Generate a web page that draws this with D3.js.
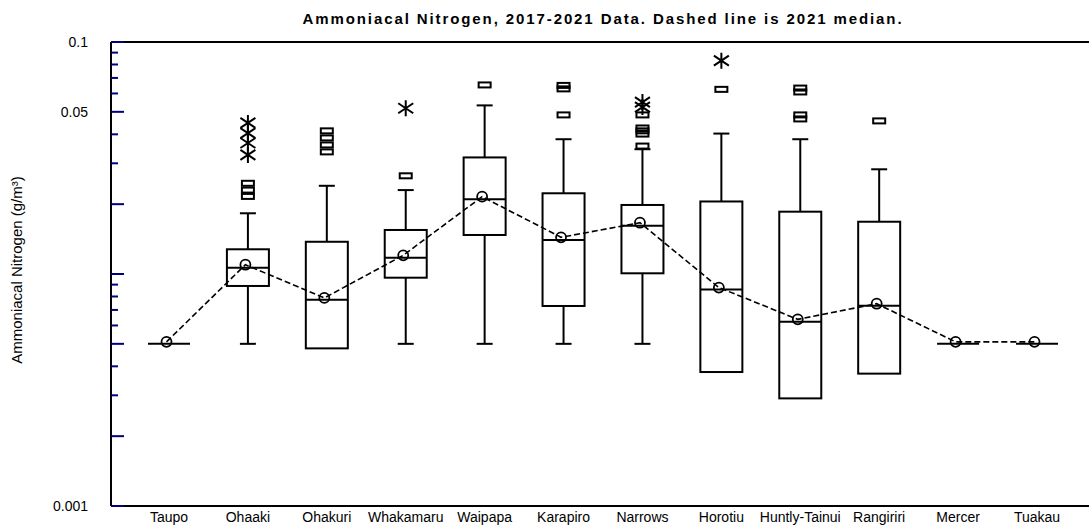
<!DOCTYPE html>
<html>
<head>
<meta charset="utf-8">
<script src="https://cdn.jsdelivr.net/npm/d3@7"></script>
<style>
  body { margin: 0; background: #fff; }
  text { font-family: "Liberation Sans", Arial, sans-serif; fill: #000; }
</style>
</head>
<body>
<div id="chart"></div>
<script>
// sites along the river, upstream to downstream
const sites = ['Taupo', 'Ohaaki', 'Ohakuri', 'Whakamaru', 'Waipapa', 'Karapiro',
    'Narrows', 'Horotiu', 'Huntly-Tainui', 'Rangiriri', 'Mercer', 'Tuakau'];

// 2017-2021 box statistics (g/m3)
const lowWhisker  = [0.005, 0.005,   0.00478, 0.005,   0.005,   0.005,   0.005,   0.00378, 0.00291, 0.00372, 0.005, 0.005];
const quart1      = [0.005, 0.00888, 0.00478, 0.00964, 0.01473, 0.00728, 0.01007, 0.00378, 0.00291, 0.00372, 0.005, 0.005];
const medians     = [0.005, 0.01064, 0.00775, 0.01176, 0.0210,  0.01401, 0.01615, 0.00857, 0.00623, 0.0073,  0.005, 0.005];
const quart3      = [0.005, 0.01278, 0.01377, 0.01548, 0.0318,  0.02228, 0.01984, 0.02054, 0.01856, 0.0168,  0.005, 0.005];
const highWhisker = [0.005, 0.01827, 0.0240,  0.0230,  0.0533,  0.0381,  0.0345,  0.0403,  0.0381,  0.02827, 0.005, 0.005];

// outside values (squares) and far outside values (stars)
const outsideVals = [
    [],
    [0.0246, 0.0230, 0.0216],
    [0.0414, 0.0386, 0.0360, 0.0336],
    [0.0265],
    [0.0653],
    [0.0485, 0.0650, 0.0628],
    [0.0485, 0.0426, 0.0414, 0.0401, 0.0356],
    [0.0625],
    [0.0633, 0.0609, 0.0485, 0.0466],
    [0.0457],
    [],
    []
];
const farOutVals = [
    [],
    [0.0448, 0.0405, 0.0367, 0.0326],
    [],
    [0.0518],
    [],
    [],
    [0.0551, 0.0524],
    [0.0831],
    [],
    [],
    [],
    []
];

// 2021 medians (dashed line)
const median2021 = [0.005, 0.01075, 0.00773, 0.0118, 0.02112, 0.01411, 0.01631, 0.00857, 0.00625, 0.0073, 0.005, 0.005];

const majorTicks = [0.1, 0.05, 0.02, 0.01, 0.005, 0.002, 0.001];
const minorTicks = [0.09, 0.08, 0.07, 0.06, 0.04, 0.03, 0.009, 0.008, 0.007, 0.006, 0.004, 0.003];
const tickLabels = [0.1, 0.05, 0.001];

const width = 1089, height = 531;
const plot = { left: 111, right: 1089, top: 42, bottom: 506 };
const boxW = 42, capW = 16;

const svg = d3.select('#chart')
    .append('svg')
    .attr('width', width)
    .attr('height', height);

const y = d3.scaleLog()
    .domain([0.001, 0.1])
    .range([plot.bottom, plot.top]);

const x = d3.scalePoint()
    .domain(sites)
    .range([169, 1037]);

const rows = sites.map((s, i) => ({
    site: s,
    lo: lowWhisker[i], q1: quart1[i], med: medians[i], q3: quart3[i], hi: highWhisker[i],
    outs: outsideVals[i], fars: farOutVals[i], m21: median2021[i]
}));

// frame: left axis, top and bottom lines (no right border)
svg.append('line')
    .attr('x1', plot.left).attr('x2', plot.right)
    .attr('y1', plot.top).attr('y2', plot.top)
    .attr('stroke', '#000').attr('stroke-width', 2);
svg.append('line')
    .attr('x1', plot.left).attr('x2', plot.right)
    .attr('y1', plot.bottom).attr('y2', plot.bottom)
    .attr('stroke', '#000').attr('stroke-width', 2);
svg.append('line')
    .attr('x1', plot.left).attr('x2', plot.left)
    .attr('y1', plot.top).attr('y2', plot.bottom)
    .attr('stroke', '#000').attr('stroke-width', 2);

// y ticks are navy, drawn inside the plot
svg.append('g')
    .selectAll('line.major')
    .data(majorTicks)
    .enter()
        .append('line')
        .attr('x1', plot.left).attr('x2', plot.left + 13)
        .attr('y1', d => y(d)).attr('y2', d => y(d))
        .attr('stroke', '#000080').attr('stroke-width', 2);

svg.append('g')
    .selectAll('line.minor')
    .data(minorTicks)
    .enter()
        .append('line')
        .attr('x1', plot.left).attr('x2', plot.left + 7)
        .attr('y1', d => y(d)).attr('y2', d => y(d))
        .attr('stroke', '#000080').attr('stroke-width', 2);

svg.append('g')
    .selectAll('text')
    .data(tickLabels)
    .enter()
        .append('text')
        .attr('x', 88)
        .attr('y', d => y(d))
        .attr('dy', '0.35em')
        .attr('text-anchor', 'end')
        .style('font-size', '14px')
        .text(d => d);

// category labels
svg.append('g')
    .selectAll('text')
    .data(sites)
    .enter()
        .append('text')
        .attr('x', d => x(d))
        .attr('y', 522)
        .attr('text-anchor', 'middle')
        .style('font-size', '14px')
        .text(d => d);

// titles
svg.append('text')
    .attr('x', 603)
    .attr('y', 24)
    .attr('text-anchor', 'middle')
    .style('font-size', '15px')
    .style('font-weight', 'bold')
    .style('letter-spacing', '1.9px')
    .text('Ammoniacal Nitrogen, 2017-2021 Data. Dashed line is 2021 median.');

svg.append('text')
    .attr('transform', 'translate(22,270) rotate(-90)')
    .attr('text-anchor', 'middle')
    .style('font-size', '15px')
    .text('Ammoniacal Nitrogen (g/m\u00B3)');

// boxes
const g = svg.append('g')
    .attr('stroke', '#000')
    .attr('stroke-width', 2)
    .attr('fill', 'none');

const box = g.selectAll('g.box')
    .data(rows)
    .enter()
        .append('g')
        .attr('class', 'box');

// whiskers (only where they leave the box)
box.filter(d => d.hi > d.q3)
    .append('line')
    .attr('x1', d => x(d.site)).attr('x2', d => x(d.site))
    .attr('y1', d => y(d.q3)).attr('y2', d => y(d.hi));
box.filter(d => d.hi > d.q3)
    .append('line')
    .attr('x1', d => x(d.site) - capW / 2).attr('x2', d => x(d.site) + capW / 2)
    .attr('y1', d => y(d.hi)).attr('y2', d => y(d.hi));
box.filter(d => d.lo < d.q1)
    .append('line')
    .attr('x1', d => x(d.site)).attr('x2', d => x(d.site))
    .attr('y1', d => y(d.q1)).attr('y2', d => y(d.lo));
box.filter(d => d.lo < d.q1)
    .append('line')
    .attr('x1', d => x(d.site) - capW / 2).attr('x2', d => x(d.site) + capW / 2)
    .attr('y1', d => y(d.lo)).attr('y2', d => y(d.lo));

box.append('rect')
    .attr('x', d => x(d.site) - boxW / 2)
    .attr('width', boxW)
    .attr('y', d => y(d.q3))
    .attr('height', d => y(d.q1) - y(d.q3));

box.append('line')
    .attr('x1', d => x(d.site) - boxW / 2).attr('x2', d => x(d.site) + boxW / 2)
    .attr('y1', d => y(d.med)).attr('y2', d => y(d.med));

// outside values
box.selectAll('rect.out')
    .data(d => d.outs.map(v => ({ site: d.site, v: v })))
    .enter()
        .append('rect')
        .attr('class', 'out')
        .attr('x', d => x(d.site) - 6)
        .attr('y', d => y(d.v) - 2.5)
        .attr('width', 12)
        .attr('height', 5);

const star = 'M0,-8L0,8M-7.5,-5L7.5,5M-7.5,5L7.5,-5';
box.selectAll('path.far')
    .data(d => d.fars.map(v => ({ site: d.site, v: v })))
    .enter()
        .append('path')
        .attr('class', 'far')
        .attr('d', star)
        .attr('transform', d => `translate(${x(d.site)},${y(d.v)})`);

// 2021 median line with circles (symbol sits slightly up-left)
const dx = -2.5, dy = -2;
const line = d3.line()
    .x(d => x(d.site) + dx)
    .y(d => y(d.m21) + dy);

svg.append('path')
    .datum(rows)
    .attr('d', line)
    .attr('fill', 'none')
    .attr('stroke', '#000')
    .attr('stroke-width', 1.6)
    .attr('stroke-dasharray', '6,3');

svg.append('g')
    .selectAll('circle')
    .data(rows)
    .enter()
        .append('circle')
        .attr('cx', d => x(d.site) + dx)
        .attr('cy', d => y(d.m21) + dy)
        .attr('r', 5)
        .attr('fill', 'none')
        .attr('stroke', '#000')
        .attr('stroke-width', 1.8);
</script>
</body>
</html>
